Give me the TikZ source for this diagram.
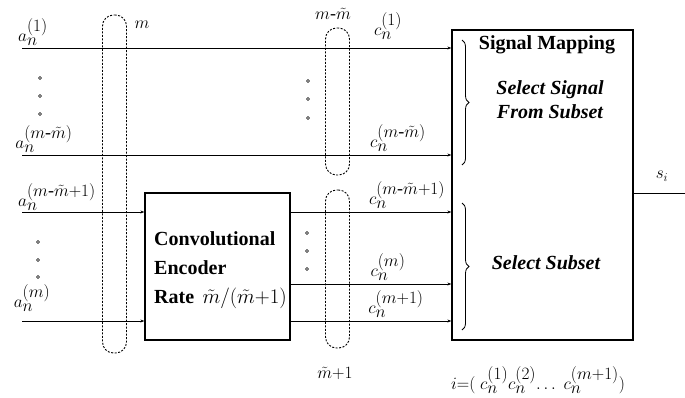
\documentclass[tikz,border=0pt]{standalone}
\usepackage{amsmath}
\usepackage{fontspec}
\setmainfont{Liberation Serif}
\usetikzlibrary{arrows.meta,positioning,decorations.pathreplacing}
\newcommand{\sig}[2]{$#1_{\textstyle n}^{\textstyle #2}$}
\begin{document}
\begin{tikzpicture}[x=1pt,y=-1pt,blk/.style={draw,line width=1.3pt,inner sep=0pt},grp/.style={draw,line width=0.9pt,dash pattern=on 2pt off 1.5pt,rounded corners=11pt,minimum width=24pt,inner sep=0pt},sig/.style={line width=0.9pt,-{Stealth[length=4pt,width=3pt]}},lbl/.style={font=\fontsize{18}{20}\selectfont,inner sep=0pt},pt/.style={circle,draw,inner sep=0pt,minimum size=3pt},brc/.style={decorate,decoration={brace,amplitude=7pt},line width=0.8pt},big/.style={font=\fontsize{20}{29}\selectfont\bfseries,align=left,inner sep=0pt}]
\useasboundingbox (0,0) rectangle (685,397);
% blocks
\node[blk,minimum width=145pt,minimum height=147pt] (enc) at (217.5,266.5) {};
\node[blk,minimum width=181pt,minimum height=310pt] (map) at (542.5,185) {};
\node[big,anchor=west] (enctxt) at (154,270) {Convolutional\\Encoder\\Rate \,$\tilde m/(\tilde m{+}1)$};
\node[big] (maptxt) at (547,45) {Signal Mapping};
\node[big,font=\fontsize{20}{24}\selectfont\bfseries\itshape,align=center] (seltxt) at (550,100) {Select Signal\\From Subset};
\node[big,font=\fontsize{20}{24}\selectfont\bfseries\itshape] (subtxt) at (546,263) {Select Subset};
\draw[brc] (462,40) -- (462,165);
\draw[brc] (462,203) -- (462,330);
% inputs
\coordinate (a1) at (22,48);
\coordinate (a2) at (22,155);
\coordinate (a3) at (22,212);
\coordinate (a4) at (22,321);
\draw[sig] (a1) -- (a1 -| map.west);
\draw[sig] (a2) -- (a2 -| map.west);
\draw[sig] (a3) -- (a3 -| enc.west);
\draw[sig] (a4) -- (a4 -| enc.west);
\draw[sig] (enc.east |- a3) -- (a3 -| map.west);
\draw[sig] (enc.east |- 0,284) -- (map.west |- 0,284);
\draw[sig] (enc.east |- a4) -- (a4 -| map.west);
\coordinate (sout) at (685,193);
\draw[line width=0.9pt] (map.east |- sout) -- (sout);
\node[lbl] (si) at (662,176) {$s_i$};
% groups
\node[grp,minimum height=338pt] (gin) at (114.5,184) {};
\node[grp,minimum height=147pt] (gtop) at (337.5,101.5) {};
\node[grp,minimum height=158pt] (gbot) at (337.5,269) {};
\node[lbl] (m) at (142,25) {$m$};
\node[lbl] (mm) at (333,14) {$m\text{-}\tilde m$};
\node[lbl] (m1) at (335,373) {$\tilde m{+}1$};
% labels
\node[lbl] (la1) at (33,32) {\sig{a}{(1)}};
\node[lbl] (la2) at (44,139) {\sig{a}{(m\text{-}\tilde m)}};
\node[lbl] (la3) at (57,197) {\sig{a}{(m\text{-}\tilde m{+}1)}};
\node[lbl] (la4) at (32,298) {\sig{a}{(m)}};
\node[lbl] (lc1) at (388,26) {\sig{c}{(1)}};
\node[lbl] (lc2) at (398,138) {\sig{c}{(m\text{-}\tilde m)}};
\node[lbl] (lc3) at (407,195) {\sig{c}{(m\text{-}\tilde m{+}1)}};
\node[lbl] (lc4) at (388,267) {\sig{c}{(m)}};
\node[lbl] (lc5) at (396,304) {\sig{c}{(m{+}1)}};
\node[lbl,font=\fontsize{17}{19}\selectfont] (idx) at (538,380) {$i{=}(\;$\sig{c}{(1)}\sig{c}{(2)}$\ldots\;\,$\sig{c}{(m{+}1)}$)$};
\foreach \y in {78,96,114} \node[pt] at (40,\y) {};
\foreach \y in {242,260,277} \node[pt] at (38,\y) {};
\foreach \y in {81,99,118} \node[pt] at (308,\y) {};
\foreach \y in {233,251,269} \node[pt] at (307,\y) {};
\end{tikzpicture}
\end{document}
